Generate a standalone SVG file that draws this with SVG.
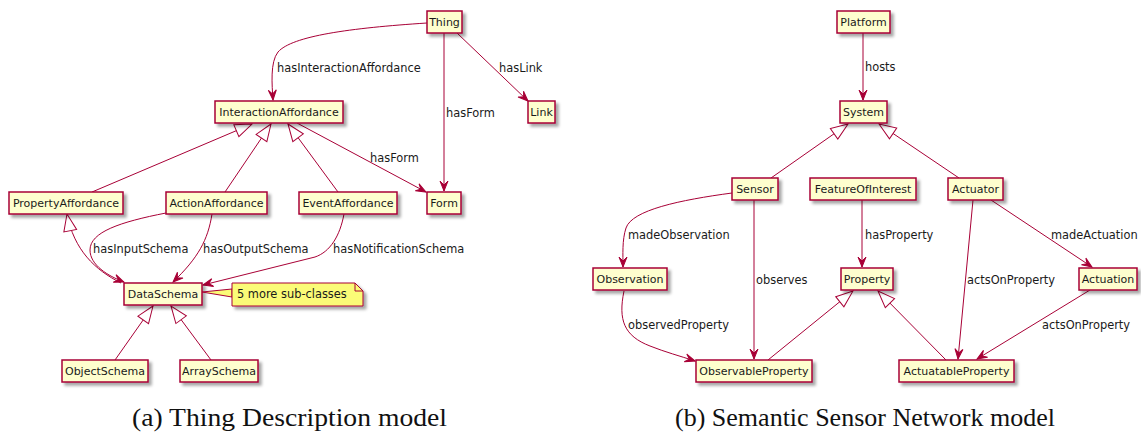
<svg xmlns="http://www.w3.org/2000/svg" width="1141" height="432" viewBox="0 0 1141 432">
<style>
.n rect{fill:#FEFECE;stroke:#A80036;stroke-width:1.5;filter:url(#sh)}
.n text,.lbl{font-family:"DejaVu Sans",sans-serif;font-size:11px;fill:#1a1a1a}
.lbl{font-size:11.4px}
.n text{text-anchor:middle}
.e{fill:none;stroke:#A80036;stroke-width:1}
.a{marker-end:url(#arr)}
.g{marker-end:url(#tri)}
.cap{font-family:"Liberation Serif",serif;font-size:25px;fill:#111}
</style>
<defs>
<filter id="sh" x="-20%" y="-40%" width="150%" height="200%">
<feDropShadow dx="3" dy="3" stdDeviation="1.8" flood-color="#000" flood-opacity="0.35"/>
</filter>
<marker id="arr" markerUnits="userSpaceOnUse" markerWidth="14" markerHeight="12" refX="0" refY="0" viewBox="-11 -6 12 12" orient="auto" overflow="visible">
<path d="M0,0 L-10,-4 L-6,0 L-10,4 Z" fill="#A80036" stroke="#A80036" stroke-width="1"/>
</marker>
<marker id="tri" markerUnits="userSpaceOnUse" markerWidth="20" markerHeight="16" refX="0" refY="0" viewBox="-19 -8 20 16" orient="auto" overflow="visible">
<path d="M0,0 L-17,-6.5 L-17,6.5 Z" fill="#fff" stroke="#A80036" stroke-width="1"/>
</marker>
</defs>

<g id="connectors">
<!-- left -->
<path class="e a" d="M427,23 C350,28 292,36 278,52 C270,62 272,85 273,100"/>
<path class="e a" d="M457,33 L528,101"/>
<path class="e a" d="M444,33 L444,191"/>
<path class="e a" d="M297,123 L426,192"/>
<path class="e g" d="M92,192 L252,124"/>
<path class="e g" d="M225,192 L271,124"/>
<path class="e g" d="M338,192 L288,124"/>
<path class="e g" d="M121,283 C95,270 74,250 67,214"/>
<path class="e a" d="M166,213 C120,222 90,232 90,250 C90,265 108,276 124,282"/>
<path class="e a" d="M212,214 C208,240 198,258 173,282"/>
<path class="e a" d="M344,214 C340,236 330,252 315,257 L203,285"/>
<path class="e g" d="M115,360 L153,306"/>
<path class="e g" d="M211,360 L171,306"/>
<!-- right -->
<path class="e a" d="M863,33 L863,100"/>
<path class="e g" d="M771,178 L848,124"/>
<path class="e g" d="M959,178 L879,124"/>
<path class="e a" d="M732,193 C680,200 632,210 626,228 C622,240 623,255 623,267"/>
<path class="e a" d="M754,200 L754,359"/>
<path class="e a" d="M624,291 C618,320 624,336 650,346 C665,352 680,356 695,361"/>
<path class="e g" d="M768,360 L853,291"/>
<path class="e a" d="M862,200 L862,267"/>
<path class="e a" d="M973,200 L958,359"/>
<path class="e a" d="M991,200 L1092,267"/>
<path class="e a" d="M1090,290 L977,359"/>
<path class="e g" d="M946,360 L878,291"/>
</g>

<g id="edge-labels">
<text class="lbl" x="277" y="72">hasInteractionAffordance</text>
<text class="lbl" x="499" y="72">hasLink</text>
<text class="lbl" x="446" y="117">hasForm</text>
<text class="lbl" x="370" y="162">hasForm</text>
<text class="lbl" x="93" y="253">hasInputSchema</text>
<text class="lbl" x="203" y="253">hasOutputSchema</text>
<text class="lbl" x="333" y="253">hasNotificationSchema</text>
<text class="lbl" x="865" y="71">hosts</text>
<text class="lbl" x="628" y="239">madeObservation</text>
<text class="lbl" x="756" y="284">observes</text>
<text class="lbl" x="628" y="329">observedProperty</text>
<text class="lbl" x="865" y="239">hasProperty</text>
<text class="lbl" x="967" y="284">actsOnProperty</text>
<text class="lbl" x="1051" y="239">madeActuation</text>
<text class="lbl" x="1042" y="329">actsOnProperty</text>
</g>

<g id="Thing" class="n"><rect x="427" y="11" width="35" height="22"/><text x="444.5" y="26">Thing</text></g>
<g id="Link" class="n"><rect x="528" y="101" width="27" height="22"/><text x="541.5" y="116">Link</text></g>
<g id="Form" class="n"><rect x="427" y="192" width="34" height="22"/><text x="444" y="207">Form</text></g>
<g id="InteractionAffordance" class="n"><rect x="215" y="101" width="128" height="22"/><text x="279" y="116">InteractionAffordance</text></g>
<g id="PropertyAffordance" class="n"><rect x="9" y="192" width="114" height="22"/><text x="66" y="207">PropertyAffordance</text></g>
<g id="ActionAffordance" class="n"><rect x="166" y="192" width="101" height="22"/><text x="216.5" y="207">ActionAffordance</text></g>
<g id="EventAffordance" class="n"><rect x="299" y="192" width="98" height="22"/><text x="348" y="207">EventAffordance</text></g>
<g id="DataSchema" class="n"><rect x="124" y="283" width="78" height="22"/><text x="163" y="298">DataSchema</text></g>
<g id="note">
<path d="M202,292 L232,289 L232,297 Z" fill="#FBFB77" stroke="#A80036" stroke-width="1"/>
<path d="M232,283 L355,283 L363,291 L363,306 L232,306 Z" fill="#FBFB77" stroke="#A80036" stroke-width="1" filter="url(#sh)"/>
<path d="M355,283 L355,291 L363,291" fill="none" stroke="#A80036" stroke-width="1"/>
<text class="lbl" x="237" y="298">5 more sub-classes</text>
</g>
<g id="ObjectSchema" class="n"><rect x="62" y="360" width="86" height="22"/><text x="105" y="375">ObjectSchema</text></g>
<g id="ArraySchema" class="n"><rect x="180" y="360" width="78" height="22"/><text x="219" y="375">ArraySchema</text></g>

<g id="Platform" class="n"><rect x="837" y="11" width="53" height="22"/><text x="863.5" y="26">Platform</text></g>
<g id="System" class="n"><rect x="840" y="101" width="47" height="22"/><text x="863.5" y="116">System</text></g>
<g id="Sensor" class="n"><rect x="732" y="178" width="46" height="22"/><text x="755" y="193">Sensor</text></g>
<g id="FeatureOfInterest" class="n"><rect x="810" y="178" width="106" height="22"/><text x="863" y="193">FeatureOfInterest</text></g>
<g id="Actuator" class="n"><rect x="948" y="178" width="55" height="22"/><text x="975.5" y="193">Actuator</text></g>
<g id="Observation" class="n"><rect x="593" y="268" width="74" height="22"/><text x="630" y="283">Observation</text></g>
<g id="Property" class="n"><rect x="841" y="268" width="52" height="22"/><text x="867" y="283">Property</text></g>
<g id="Actuation" class="n"><rect x="1079" y="268" width="58" height="22"/><text x="1108" y="283">Actuation</text></g>
<g id="ObservableProperty" class="n"><rect x="696" y="360" width="116" height="22"/><text x="754" y="375">ObservableProperty</text></g>
<g id="ActuatableProperty" class="n"><rect x="899" y="360" width="115" height="22"/><text x="956.5" y="375">ActuatableProperty</text></g>

<text class="cap" x="132" y="426" textLength="315" lengthAdjust="spacingAndGlyphs">(a) Thing Description model</text>
<text class="cap" x="675" y="426" textLength="380" lengthAdjust="spacingAndGlyphs">(b) Semantic Sensor Network model</text>
</svg>
